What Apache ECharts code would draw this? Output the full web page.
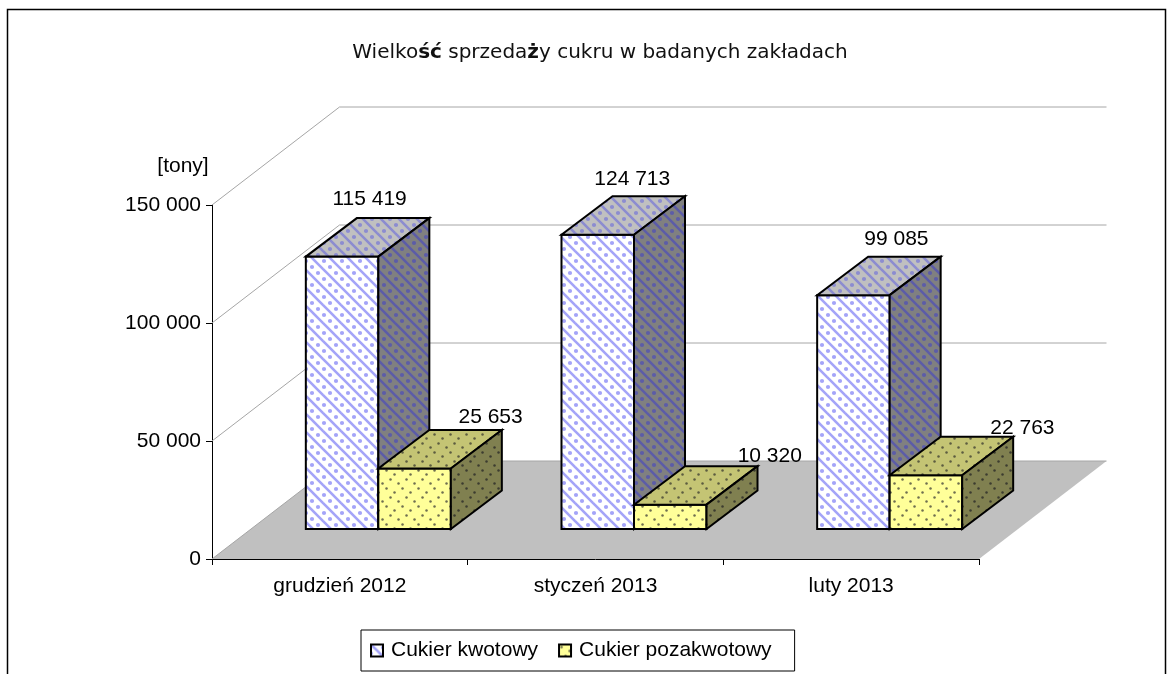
<!DOCTYPE html>
<html>
<head>
<meta charset="utf-8">
<style>html,body{margin:0;background:#fff}#chart{width:1174px;height:674px}</style>
<script src="https://cdn.jsdelivr.net/npm/echarts@6/dist/echarts.min.js"></script>
</head>
<body>
<div id="chart"></div>
<script>
// dane
var months = ['grudzień 2012', 'styczeń 2013', 'luty 2013'];
var kwotowy = [115419, 124713, 99085];
var pozakwotowy = [25653, 10320, 22763];
var yTicks = [0, 50000, 100000, 150000];

// przesuniecia etykiet wzgledem srodka gornej sciany (jak w Excelu, kazda troche inaczej)
var kwotowyLabelNudge = [[2, -19], [9, -17], [17.5, -17]];
var pozaLabelNudge = [[50.5, -13], [74, -10], [71, -9]];

var wallDepth = [127.5, -98];
var barDepth = [51, -38.5];
var floorOffset = [38.5, -30];
var font = '"Liberation Sans", Arial, sans-serif';

function fmt(v) {
  return String(v).replace(/\B(?=(\d{3})+$)/g, ' ');
}

function tile(w, h, bg, paint) {
  var c = document.createElement('canvas');
  c.width = w;
  c.height = h;
  var ctx = c.getContext('2d');
  ctx.fillStyle = bg;
  ctx.fillRect(0, 0, w, h);
  paint(ctx);
  return { image: c, repeat: 'repeat' };
}

// ukosne paski: na przemian ciagly i kropkowany
function stripes(bg, ink) {
  var p = 18;
  return tile(p, p, bg, function (ctx) {
    ctx.strokeStyle = ink;
    ctx.fillStyle = ink;
    ctx.lineWidth = 2.6;
    for (var k = -1; k <= 1; k++) {
      ctx.beginPath();
      ctx.moveTo(k * p - 2, -2);
      ctx.lineTo(k * p + p + 2, p + 2);
      ctx.stroke();
      // kropki w polowie odstepu
      for (var j = -1; j <= 3; j++) {
        ctx.beginPath();
        ctx.arc(k * p + p / 2 + j * 6 + 3, j * 6 + 3, 2.1, 0, Math.PI * 2);
        ctx.fill();
      }
    }
  });
}

// rozrzucone kropki
function dots(bg, ink) {
  var spots = [[2.5, 2.5], [10.5, 6.5], [6.5, 11.5], [14.5, 15.5]];
  return tile(16, 18, bg, function (ctx) {
    ctx.fillStyle = ink;
    spots.forEach(function (p) {
      ctx.beginPath();
      ctx.arc(p[0], p[1], 1.25, 0, Math.PI * 2);
      ctx.fill();
    });
  });
}

var faces = {
  kw: {
    front: stripes('#ffffff', '#a4a4f8'),
    top: stripes('#c0c0c0', '#8c8cd0'),
    side: stripes('#808080', '#5c5ca8')
  },
  poza: {
    front: dots('#ffff99', '#6e6e50'),
    top: dots('#c4c474', '#5c5c40'),
    side: dots('#808050', '#3c3c30')
  }
};

function poly(points, fill, stroke, lw) {
  return {
    type: 'polygon',
    shape: { points: points },
    style: { fill: fill, stroke: stroke, lineWidth: lw, lineJoin: 'miter' }
  };
}

function barRenderer(skin, side, nudges) {
  return function (params, api) {
    var idx = api.value(0);
    var val = api.value(1);
    var band = api.size([1, 0])[0];
    var w = band * 0.2836;
    var top = api.coord([idx, val]);
    var base = api.coord([idx, 0]);
    var x0 = top[0] + (side < 0 ? -w : 0) + floorOffset[0];
    var x1 = x0 + w;
    var yT = top[1] + floorOffset[1];
    var yB = base[1] + floorOffset[1];
    var dx = barDepth[0];
    var dy = barDepth[1];
    var n = nudges[params.dataIndex];
    return {
      type: 'group',
      children: [
        poly([[x0, yT], [x1, yT], [x1, yB], [x0, yB]], skin.front, '#000', 2),
        poly([[x0, yT], [x1, yT], [x1 + dx, yT + dy], [x0 + dx, yT + dy]], skin.top, '#000', 2),
        poly([[x1, yT], [x1 + dx, yT + dy], [x1 + dx, yB + dy], [x1, yB]], skin.side, '#000', 2),
        {
          type: 'text',
          style: {
            text: fmt(val),
            x: (x0 + x1) / 2 + dx / 2 + n[0],
            y: yT + dy + n[1],
            align: 'center',
            verticalAlign: 'middle',
            fill: '#000',
            font: '21px ' + font
          }
        }
      ]
    };
  };
}

var chart = echarts.init(document.getElementById('chart'), null, { renderer: 'canvas' });

chart.setOption({
  animation: false,
  backgroundColor: '#fff',
  graphic: [{
    type: 'rect',
    silent: true,
    shape: { x: 7.5, y: 9.5, width: 1158, height: 700 },
    style: { fill: 'none', stroke: '#000', lineWidth: 1.5 }
  }],
  title: {
    text: 'Wielko{b|ść} sprzeda{b|ż}y cukru w badanych zakładach',
    left: 595,
    top: 38,
    textAlign: 'center',
    textStyle: {
      fontFamily: '"DejaVu Sans"',
      fontSize: 20,
      fontWeight: 'normal',
      color: '#111',
      rich: { b: { fontFamily: '"DejaVu Sans"', fontSize: 20, fontWeight: 'bold', color: '#111' } }
    }
  },
  legend: {
    data: [
      { name: 'Cukier kwotowy', itemStyle: { color: faces.kw.front, borderColor: '#000', borderWidth: 2 } },
      { name: 'Cukier pozakwotowy', itemStyle: { color: faces.poza.front, borderColor: '#000', borderWidth: 2 } }
    ],
    left: 361,
    top: 630,
    icon: 'rect',
    itemWidth: 12,
    itemHeight: 12,
    itemGap: 20,
    padding: [10, 23, 10, 9],
    backgroundColor: '#fff',
    borderColor: '#000',
    borderWidth: 1,
    textStyle: { fontFamily: font, fontSize: 21, color: '#000', padding: [0, 0, 0, 3] },
    selectedMode: false
  },
  tooltip: { show: false },
  grid: { left: 212, top: 205, width: 767, height: 354 },
  xAxis: {
    type: 'category',
    data: months,
    axisLine: { lineStyle: { color: '#000', width: 1 } },
    axisTick: { show: true, length: 6, lineStyle: { color: '#000' } },
    axisLabel: { color: '#000', fontFamily: font, fontSize: 21, margin: 17 }
  },
  yAxis: {
    type: 'value',
    min: 0,
    max: 150000,
    interval: 50000,
    name: '[tony]',
    nameLocation: 'end',
    nameGap: 28,
    nameTextStyle: { color: '#000', fontFamily: font, fontSize: 21, align: 'center', padding: [0, 0, 0, -58] },
    axisLine: { show: true, lineStyle: { color: '#000', width: 1 } },
    axisTick: { show: true, length: 6, lineStyle: { color: '#000' } },
    axisLabel: { color: '#000', fontFamily: font, fontSize: 21, margin: 11, formatter: fmt },
    splitLine: { show: false }
  },
  series: [
    {
      // podloga i linie siatki na scianach
      type: 'custom',
      name: 'sciany',
      silent: true,
      clip: false,
      z: 1,
      data: yTicks.map(function (v) { return [0, v]; }),
      renderItem: function (params, api) {
        var cs = params.coordSys;
        var y = api.coord([0, api.value(1)])[1];
        var xl = cs.x;
        var xr = cs.x + cs.width;
        var dx = wallDepth[0];
        var dy = wallDepth[1];
        var line = {
          type: 'polyline',
          shape: { points: [[xl, y], [xl + dx, y + dy], [xr + dx, y + dy]] },
          style: { fill: 'none', stroke: '#a6a6a6', lineWidth: 1 }
        };
        if (api.value(1) !== 0) return line;
        return {
          type: 'group',
          children: [
            poly([[xl, y], [xr, y], [xr + dx, y + dy], [xl + dx, y + dy]], '#c0c0c0', 'none', 0),
            line
          ]
        };
      }
    },
    {
      type: 'custom',
      name: 'Cukier kwotowy',
      clip: false,
      z: 3,
      itemStyle: { color: '#ccccff' },
      encode: { x: 0, y: 1 },
      data: kwotowy.map(function (v, i) { return [i, v]; }),
      renderItem: barRenderer(faces.kw, -1, kwotowyLabelNudge)
    },
    {
      type: 'custom',
      name: 'Cukier pozakwotowy',
      clip: false,
      z: 4,
      itemStyle: { color: '#ffff99' },
      encode: { x: 0, y: 1 },
      data: pozakwotowy.map(function (v, i) { return [i, v]; }),
      renderItem: barRenderer(faces.poza, 1, pozaLabelNudge)
    }
  ]
});
</script>
</body>
</html>
